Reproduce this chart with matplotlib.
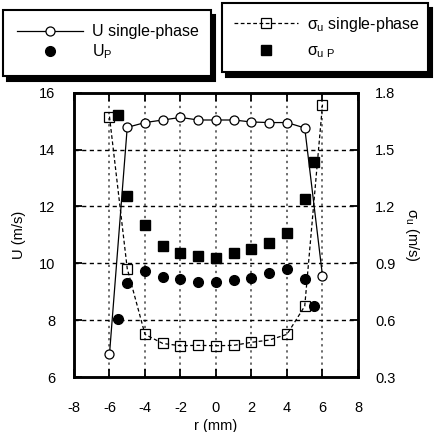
import numpy as np
import matplotlib.pyplot as plt

# single-phase profiles
r_single = [-6, -5, -4, -3, -2, -1, 0, 1, 2, 3, 4, 5, 6]
u_single = [6.8, 14.78, 14.95, 15.04, 15.13, 15.04, 15.04, 15.04, 14.97, 14.95, 14.95, 14.76, 9.56]
sig_single = [1.674, 0.872, 0.525, 0.477, 0.465, 0.467, 0.465, 0.467, 0.483, 0.495, 0.525, 0.674, 1.737]

# particle profiles
r_p = [-5.5, -5, -4, -3, -2, -1, 0, 1, 2, 3, 4, 5, 5.5]
u_p = [8.05, 9.30, 9.72, 9.53, 9.44, 9.33, 9.33, 9.40, 9.47, 9.66, 9.79, 9.44, 8.51]
sig_p = [1.683, 1.254, 1.103, 0.989, 0.954, 0.940, 0.930, 0.954, 0.974, 1.009, 1.058, 1.237, 1.437]

x_ticks = [-8, -6, -4, -2, 0, 2, 4, 6, 8]
u_ticks = [6, 8, 10, 12, 14, 16]
sig_ticks = [0.3, 0.6, 0.9, 1.2, 1.5, 1.8]

plt.rcParams.update({
    "font.family": ["Liberation Sans", "DejaVu Sans"],
    "font.size": 10,
    "axes.unicode_minus": False,
    "mathtext.fontset": "custom",
    "mathtext.rm": "Liberation Sans",
    "mathtext.it": "Liberation Sans",
})

fig = plt.figure(figsize=(4.37, 4.32), dpi=100)
ax = fig.add_axes([0.1693, 0.1273, 0.6499, 0.6581])
ax2 = ax.twinx()

# grid
for x in x_ticks[1:-1]:
    ax.axvline(x, color="#444444", linestyle=(0, (1.5, 2.5)), linewidth=1.1, zorder=0)
for y in u_ticks[1:-1]:
    ax.axhline(y, color="black", linestyle=(0, (3, 2.5)), linewidth=1.0, zorder=0)

l1, = ax.plot(r_single, u_single, color="black", linewidth=0.9, marker="o",
              markersize=6.5, markerfacecolor="white", markeredgecolor="black",
              markeredgewidth=0.9, label="U single-phase")
l2, = ax.plot(r_p, u_p, linestyle="none", marker="o", markersize=7,
              color="black", label="U$_\\mathregular{P}$")
l3, = ax2.plot(r_single, sig_single, color="black", linewidth=0.9,
               linestyle=(0, (3, 2)), marker="s", markersize=6.5,
               markerfacecolor="none", markeredgecolor="black",
               markeredgewidth=0.9, label="$\\sigma_\\mathregular{u}$ single-phase")
l4, = ax2.plot(r_p, sig_p, linestyle="none", marker="s", markersize=7,
               color="black", label="$\\sigma_\\mathregular{u\\ P}$")

ax.set_xlim(-8, 8)
ax.set_ylim(6, 16)
ax2.set_ylim(0.3, 1.8)
ax.set_xticks(x_ticks)
ax.set_yticks(u_ticks)
ax2.set_yticks(sig_ticks)
ax2.set_yticklabels(["%.1f" % v for v in sig_ticks])

ax.tick_params(axis="x", direction="in", top=True, length=6, width=1.3, pad=17, labelsize=10.5)
ax.tick_params(axis="y", direction="in", length=6, width=1.3, pad=13.5, labelsize=10.5)
ax2.tick_params(axis="y", direction="in", length=6, width=1.3, pad=12.5, labelsize=10.5)

for a in (ax, ax2):
    for s in a.spines.values():
        s.set_linewidth(1.8)

ax.set_xlabel("r (mm)", fontsize=10.5, labelpad=3)
ax.set_ylabel("U (m/s)", fontsize=10.5, labelpad=9)
ax2.set_ylabel("$\\sigma_\\mathregular{u}$ (m/s)", fontsize=10.5, rotation=270, labelpad=18)

shadow = {"ox": 3, "oy": -3.6, "facecolor": "black", "edgecolor": "black", "alpha": 1}
leg1 = fig.legend(handles=[l1, l2], loc="upper left",
                  bbox_to_anchor=(3 / 437, 1 - 10 / 432, 208 / 437, 0),
                  mode="expand", frameon=True, fancybox=False, shadow=shadow,
                  edgecolor="black", framealpha=1, handlelength=4.1,
                  handletextpad=0.6, numpoints=1, labelspacing=0.2,
                  borderpad=0.9, borderaxespad=0, fontsize=11.5)
leg1.get_frame().set_linewidth(1.5)
leg2 = fig.legend(handles=[l3, l4], loc="upper left",
                  bbox_to_anchor=(222 / 437, 1 - 3 / 432, 206 / 437, 0),
                  mode="expand", frameon=True, fancybox=False, shadow=shadow,
                  edgecolor="black", framealpha=1, handlelength=4.0,
                  handletextpad=0.6, numpoints=1, labelspacing=0.6,
                  borderpad=0.75, borderaxespad=0, fontsize=11.5)
leg2.get_frame().set_linewidth(1.5)

fig.savefig("out.png", dpi=100)
